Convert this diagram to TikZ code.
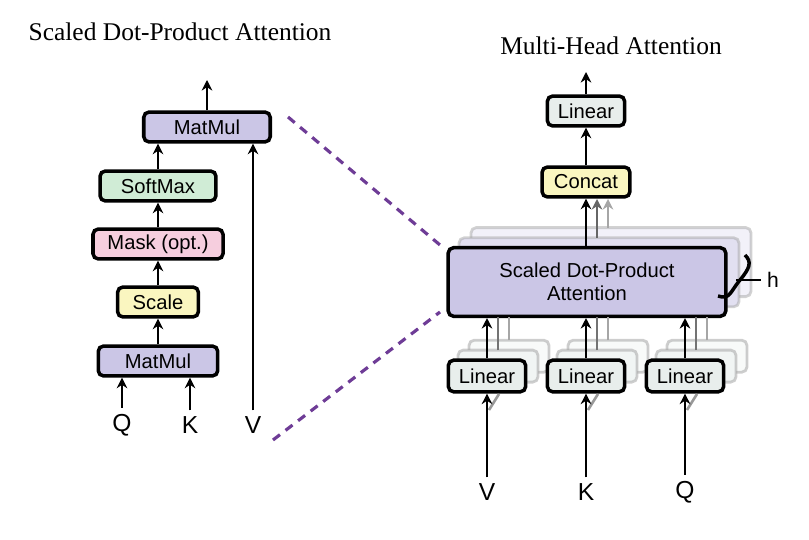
\documentclass[tikz,border=0pt]{standalone}
\usepackage{fontspec}
\setmainfont{Liberation Serif}
\setsansfont{Liberation Sans}
\usetikzlibrary{arrows.meta}
\definecolor{matcol}{RGB}{203,198,230}
\definecolor{softcol}{RGB}{208,236,214}
\definecolor{maskcol}{RGB}{246,206,222}
\definecolor{scalecol}{RGB}{250,246,192}
\definecolor{lincol}{RGB}{232,238,236}
\definecolor{dashcol}{RGB}{110,60,150}
\tikzset{
  blk/.style={draw, line width=2pt, rounded corners=3pt, minimum height=17pt,
    inner sep=2pt, font=\sffamily\fontsize{11.5}{13}\selectfont},
  ghost/.style={draw=black!35, line width=1.6pt, rounded corners=3pt},
  arr/.style={-{Stealth[length=6pt,width=6pt]}, line width=1.7pt},
  letter/.style={font=\sffamily\fontsize{14}{16}\selectfont},
  title/.style={font=\fontsize{14.5}{17}\selectfont}
}
\begin{document}
\begin{tikzpicture}[x=0.02cm,y=-0.02cm]
  \useasboundingbox (0,0) rectangle (809,540);

  % left: scaled dot-product attention
  \node[title] (ltitle) at (180,32) {Scaled Dot-Product Attention};
  \node[blk, fill=matcol, minimum width=72pt] (mm2) at (207,127) {MatMul};
  \node[blk, fill=softcol, minimum width=66pt] (soft) at (158,186) {SoftMax};
  \node[blk, fill=maskcol, minimum width=74pt] (mask) at (158,244) {Mask (opt.)};
  \node[blk, fill=scalecol, minimum width=46pt] (scale) at (158,302) {Scale};
  \node[blk, fill=matcol, minimum width=68pt] (mm1) at (158,361) {MatMul};
  \node[letter] (q) at (122,425) {Q};
  \node[letter] (k) at (190,425) {K};
  \node[letter] (v) at (253,425) {V};
  \coordinate (out1) at (207,80);

  \draw[arr] (q.north) -- (q.north |- mm1.south);
  \draw[arr] (k.north) -- (k.north |- mm1.south);
  \draw[arr] (mm1) -- (scale);
  \draw[arr] (scale) -- (mask);
  \draw[arr] (mask) -- (soft);
  \draw[arr] (soft) -- (soft.north |- mm2.south);
  \draw[arr] (v.north) -- (v.north |- mm2.south);
  \draw[arr] (mm2) -- (out1);

  % right: multi-head attention
  \node[title] (rtitle) at (611,46) {Multi-Head Attention};
  \node[blk, fill=lincol, minimum width=44pt] (lin) at (586,111) {Linear};
  \node[blk, fill=scalecol, minimum width=50pt] (cat) at (586,182) {Concat};
  \coordinate (out2) at (586,72);

  \foreach \d/\o in {24/25,12/55}
    \draw[ghost, fill=matcol!\o!white, draw opacity=0.5] (447+\d,248-\d*0.85) rectangle ++(280,69);
  \node[blk, fill=matcol, minimum width=158pt, minimum height=39pt, align=center] (sdpa) at (587,282)
    {Scaled Dot-Product\\Attention};

  \foreach \name/\x/\lbl in {lv/487/V,lk/586/K,lq/685/Q} {
    \foreach \d/\o in {22/30,11/60}
      \draw[ghost, fill=lincol!\o!white, draw opacity=0.55] (\x-40+\d,360-\d*0.9) rectangle ++(80,32);
    \foreach \d/\g in {22/35,11/55}
      \draw[line width=1.5pt, black!\g] (\x+\d,360-\d*0.9) -- (\x+\d,317);
    \node[blk, fill=lincol, minimum width=44pt, minimum height=18pt] (\name) at (\x,376) {Linear};
    \node[letter] (\name in) at (\x,492) {\lbl};
    \draw[line width=1.5pt, black!40] (\x+2,410) -- (\x+12,394);
    \draw[arr] (\name in.north) -- (\name.south);
    \draw[arr] (\name.north) -- (\name.north |- sdpa.south);
  }

  \draw[arr, black!35] (608,248-20) -- (608,199);
  \draw[arr, black!60] (597,248-10) -- (597,199);
  \draw[arr] (sdpa.north -| cat) -- (cat);
  \draw[arr] (cat) -- (lin);
  \draw[arr] (lin) -- (out2);

  % head count
  \node[font=\sffamily\fontsize{12}{14}\selectfont] (h) at (773,280) {h};
  \draw[line width=2pt] (718,296) .. controls (730,300) and (730,292) .. (740,280)
    .. controls (750,268) and (752,262) .. (745,255);
  \draw[line width=1.2pt] (736,280) -- (h.west);

  \draw[dash pattern=on 5pt off 4pt, line width=1.8pt, dashcol] (mm2.east) ++(16,-10) -- (440,245);
  \draw[dash pattern=on 5pt off 4pt, line width=1.8pt, dashcol] (273,440) -- (440,312);
\end{tikzpicture}
\end{document}
